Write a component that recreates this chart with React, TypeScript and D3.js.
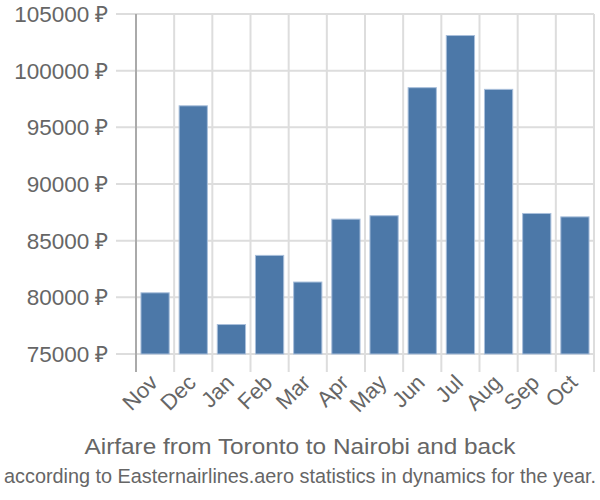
import React from "react";
import * as d3 from "d3";

const months = ["Nov", "Dec", "Jan", "Feb", "Mar", "Apr", "May", "Jun", "Jul", "Aug", "Sep", "Oct"];
const prices = [80400, 96900, 77600, 83700, 81350, 86900, 87200, 98500, 103100, 98350, 87400, 87100];
const yTicks = [75000, 80000, 85000, 90000, 95000, 100000, 105000];
const title = "Airfare from Toronto to Nairobi and back";
const subtitle = "according to Easternairlines.aero statistics in dynamics for the year.";

export default function App() {
  const W = 600, H = 500;
  const left = 136, right = 594, top = 14, bottom = 354;
  const x = d3.scaleBand<string>().domain(months).range([left, right]).paddingInner(0.26).paddingOuter(0.13);
  const xb = d3.scaleBand<string>().domain(months).range([left, right]);
  const y = d3.scaleLinear().domain([75000, 105000]).range([bottom, top]);
  const font = "'Liberation Sans', Arial, sans-serif";
  return (
    <svg width={W} height={H} style={{ position: "absolute", left: 0, top: 0 }} fontFamily={font}>
      <rect width={W} height={H} fill="#fff" />
      {yTicks.map((t) => (
        <g key={t}>
          <line x1={116} x2={right} y1={y(t)} y2={y(t)} stroke="#dddddd" strokeWidth={2} />
          <text x={108.5} y={y(t)} dy="0.35em" textAnchor="end" fontSize={22.5} fill="#666">
            {`${t} ₽`}
          </text>
        </g>
      ))}
      {months.map((m) => (
        <line key={m} x1={(xb(m) as number) + xb.bandwidth()} x2={(xb(m) as number) + xb.bandwidth()} y1={top} y2={372} stroke="#dddddd" strokeWidth={2} />
      ))}
      <line x1={left} x2={left} y1={top} y2={372} stroke="#aaaaaa" strokeWidth={2} />
      {months.map((m, i) => (
        <rect
          key={m}
          x={x(m)}
          y={y(prices[i])}
          width={x.bandwidth()}
          height={bottom - y(prices[i])}
          fill="#4c78a8"
          stroke="#a9bfdb"
          strokeWidth={1}
        />
      ))}
      {months.map((m) => {
        const cx = (xb(m) as number) + xb.bandwidth() / 2 + 4;
        const cy = 384;
        return (
          <text key={m} transform={`translate(${cx},${cy}) rotate(-45)`} textAnchor="end" fontSize={22} fill="#666">
            {m}
          </text>
        );
      })}
      <text x={300} y={454} textAnchor="middle" fontSize={22} fill="#666" textLength={431} lengthAdjust="spacingAndGlyphs">{title}</text>
      <g transform="translate(300,483) scale(1,1.13)">
        <text x={0} y={0} textAnchor="middle" fontSize={18.5} fill="#666" textLength={592} lengthAdjust="spacingAndGlyphs">{subtitle}</text>
      </g>
    </svg>
  );
}
